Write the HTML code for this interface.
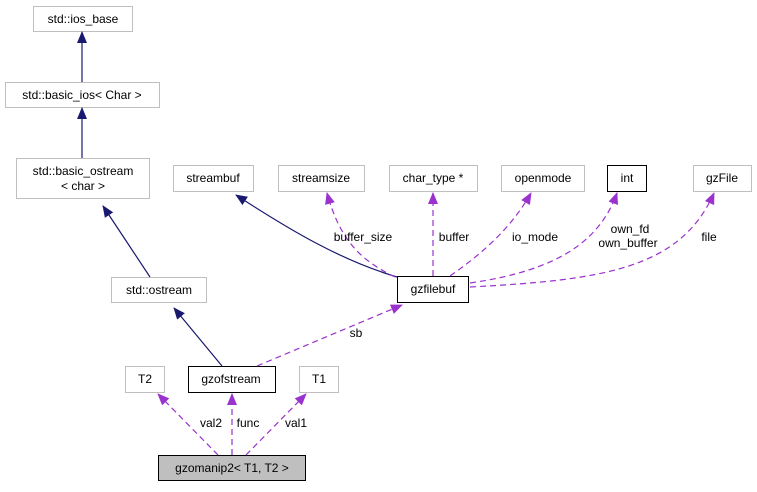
<!DOCTYPE html>
<html><head><style>body{margin:0;background:#fff}svg text{font-family:"Liberation Sans",sans-serif;font-size:12px}</style></head><body>
<svg width="757" height="487" viewBox="0 0 757 487" xmlns="http://www.w3.org/2000/svg">
<defs>
<marker id="n" markerWidth="12" markerHeight="12" refX="11" refY="6" orient="auto" markerUnits="userSpaceOnUse"><path d="M0,1 L12,6 L0,11 z" fill="#191970"/></marker>
<marker id="p" markerWidth="12" markerHeight="12" refX="11" refY="6" orient="auto" markerUnits="userSpaceOnUse"><path d="M0,1 L12,6 L0,11 z" fill="#9a32cd"/></marker>
</defs>
<g fill="#fff" stroke="#bfbfbf">
<rect x="33.5" y="6.5" width="99" height="25"/>
<rect x="5.5" y="82.5" width="154" height="25"/>
<rect x="16.5" y="158.5" width="133" height="40"/>
<rect x="173.5" y="165.5" width="80" height="26"/>
<rect x="278.5" y="165.5" width="86" height="26"/>
<rect x="389.5" y="165.5" width="88" height="26"/>
<rect x="501.5" y="165.5" width="83" height="26"/>
<rect x="693.5" y="165.5" width="58" height="26"/>
<rect x="111.5" y="277.5" width="95" height="25"/>
<rect x="125.5" y="366.5" width="39" height="26"/>
<rect x="299.5" y="366.5" width="39" height="26"/>
</g>
<g fill="#fff" stroke="#000">
<rect x="607.5" y="165.5" width="39" height="26"/>
<rect x="397.5" y="276.5" width="71" height="26"/>
<rect x="188.5" y="366.5" width="87" height="26"/>
</g>
<rect x="158.5" y="455.5" width="147" height="25" fill="#bfbfbf" stroke="#000"/>
<g fill="none" stroke="#191970" stroke-width="1.2">
<path d="M82,82 V32" marker-end="url(#n)"/>
<path d="M82,158 V108" marker-end="url(#n)"/>
<path d="M150,277 L103,206" marker-end="url(#n)"/>
<path d="M222,366 L174,308" marker-end="url(#n)"/>
<path d="M397,277 C340,260 290,230 236,195" marker-end="url(#n)"/>
</g>
<g fill="none" stroke="#9a32cd" stroke-width="1.2" stroke-dasharray="6,4">
<path d="M395,277 C360,260 340,240 327,193" marker-end="url(#p)"/>
<path d="M433,276 V193" marker-end="url(#p)"/>
<path d="M450,276 C480,255 510,230 531,193" marker-end="url(#p)"/>
<path d="M470,283 C560,270 600,240 617,193" marker-end="url(#p)"/>
<path d="M470,287 C600,280 680,270 714,193" marker-end="url(#p)"/>
<path d="M257,366 L402,305" marker-end="url(#p)"/>
<path d="M218,455 L158,394" marker-end="url(#p)"/>
<path d="M232,455 V394" marker-end="url(#p)"/>
<path d="M246,455 L306,394" marker-end="url(#p)"/>
</g>
<g text-anchor="middle" fill="#000">
<text x="83" y="23">std::ios_base</text>
<text x="82" y="99">std::basic_ios&lt; Char &gt;</text>
<text x="83" y="175">std::basic_ostream</text>
<text x="83" y="190">&lt; char &gt;</text>
<text x="213" y="182">streambuf</text>
<text x="321" y="182">streamsize</text>
<text x="433" y="182">char_type *</text>
<text x="543" y="182">openmode</text>
<text x="627" y="182">int</text>
<text x="722" y="182">gzFile</text>
<text x="159" y="294">std::ostream</text>
<text x="433" y="293">gzfilebuf</text>
<text x="145" y="383">T2</text>
<text x="231" y="383">gzofstream</text>
<text x="319" y="383">T1</text>
<text x="232" y="472">gzomanip2&lt; T1, T2 &gt;</text>
<text x="363" y="241">buffer_size</text>
<text x="454" y="241">buffer</text>
<text x="535" y="241">io_mode</text>
<text x="630" y="233">own_fd</text>
<text x="628" y="247">own_buffer</text>
<text x="709" y="241">file</text>
<text x="356" y="337">sb</text>
<text x="211" y="427">val2</text>
<text x="248" y="427">func</text>
<text x="296" y="427">val1</text>
</g>
</svg>
</body></html>
